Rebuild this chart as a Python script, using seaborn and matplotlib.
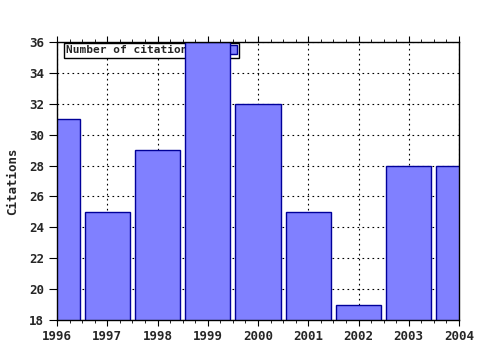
import matplotlib
matplotlib.use("Agg")
import matplotlib.pyplot as plt
import seaborn as sns
import pandas as pd
from matplotlib.ticker import MultipleLocator

years = ["1996", "1997", "1998", "1999", "2000", "2001", "2002", "2003", "2004"]
citations = [31, 25, 29, 36, 32, 25, 19, 28, 28]
series_name = "Number of citations"

sns.set_style("white")
plt.rcParams['font.family'] = ['DejaVu Sans Mono']
plt.rcParams['font.weight'] = 'bold'

df = pd.DataFrame({"Year": years, "Citations": citations, "Series": series_name})

fig = plt.figure(figsize=(4.8, 3.5), dpi=100)
ax = fig.add_axes([57/480, 1-320/350, (459-57)/480, (320-42)/350])

sns.barplot(data=df, x="Year", y="Citations", hue="Series", ax=ax,
            palette=["#8080ff"], edgecolor="#000099", linewidth=1.0,
            width=0.9, saturation=1, zorder=2)

ax.set_xlim(0, 8)
ax.set_ylim(18, 36)
ax.yaxis.set_major_locator(MultipleLocator(2))
ax.xaxis.set_minor_locator(MultipleLocator(0.25))
ax.grid(True, which="major", color="black", linestyle=(0, (1.5, 3)), linewidth=0.8, zorder=0)
ax.set_axisbelow(True)
ax.set_xlabel("")
ax.set_ylabel("Citations", fontsize=9, fontweight="bold", labelpad=7)
for s in ax.spines.values():
    s.set_color("black")
    s.set_linewidth(1.0)
ax.tick_params(axis="y", which="major", labelsize=9, length=6, color="black",
               direction="out", left=True, right=False)
ax.tick_params(axis="x", which="major", labelsize=9, length=4, color="black",
               direction="out", bottom=True, top=True)
ax.tick_params(axis="x", which="minor", length=2.5, color="black",
               direction="out", bottom=True, top=True)
for lab in ax.get_xticklabels() + ax.get_yticklabels():
    lab.set_fontweight("bold")

leg = ax.legend(loc="upper left", bbox_to_anchor=(0.015, 1.0), markerfirst=False,
                fancybox=False, frameon=True, framealpha=1, edgecolor="black",
                prop={"size": 8, "weight": "bold"}, handlelength=0.8, handleheight=0.8,
                borderpad=0.2, handletextpad=3.0, borderaxespad=0.1)
leg.get_frame().set_linewidth(1.0)
leg.set_zorder(1)

fig.savefig("out.png", dpi=100)
